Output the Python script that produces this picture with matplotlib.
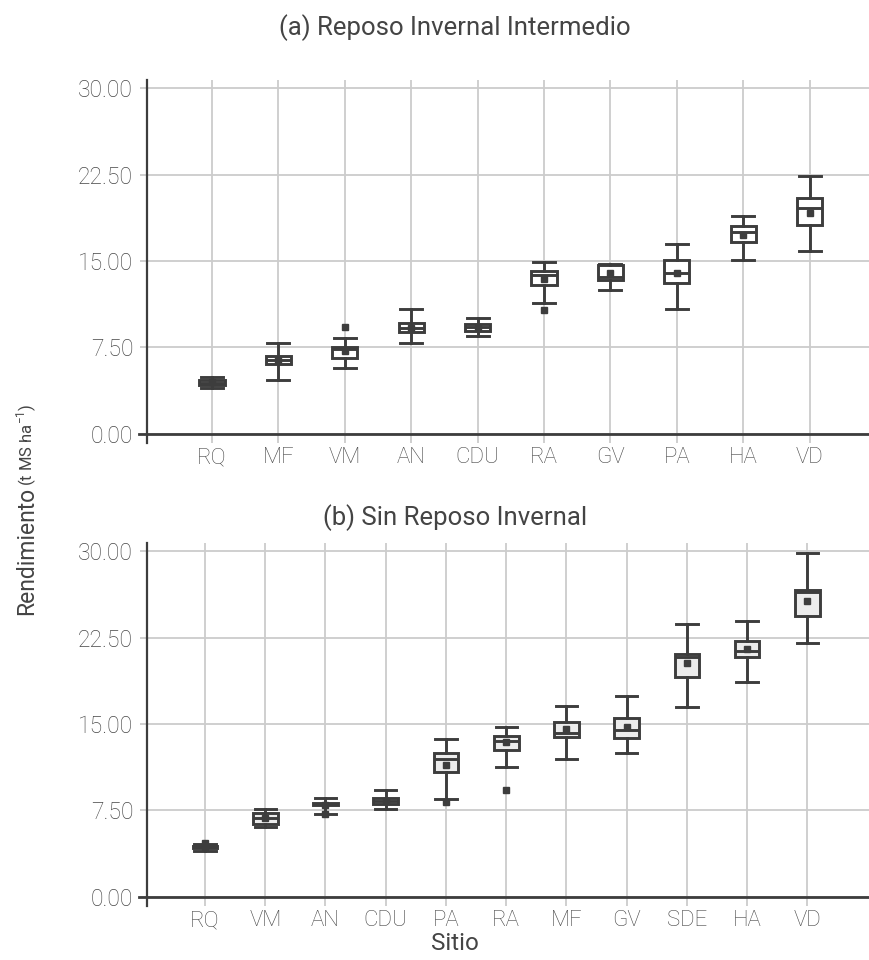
import numpy as np
import matplotlib.pyplot as plt

plt.rcParams['font.family'] = ['Roboto', 'DejaVu Sans']
plt.rcParams['mathtext.fontset'] = 'custom'
plt.rcParams['mathtext.rm'] = 'Roboto'

#%% data (a) Reposo Invernal Intermedio
a_sites  = ['RQ', 'MF', 'VM', 'AN', 'CDU', 'RA', 'GV', 'PA', 'HA', 'VD']
a_whislo = [4.0, 4.7, 5.75, 7.9, 8.45, 11.35, 12.45, 10.8, 15.05, 15.9]
a_q1     = [4.2, 6.05, 6.55, 8.85, 8.95, 12.9, 13.35, 13.05, 16.65, 18.1]
a_med    = [4.45, 6.4, 7.35, 9.2, 9.25, 13.8, 13.65, 13.95, 17.55, 19.6]
a_q3     = [4.7, 6.75, 7.5, 9.6, 9.55, 14.15, 14.65, 15.1, 18.05, 20.5]
a_whishi = [4.95, 7.9, 8.3, 10.8, 10.05, 14.9, 14.7, 16.5, 18.9, 22.4]
a_mean   = [4.5, 6.4, 7.2, 9.2, 9.25, 13.4, 13.95, 13.95, 17.3, 19.15]
a_fliers = {'VM': [9.25], 'RA': [10.75]}

#%% data (b) Sin Reposo Invernal
b_sites  = ['RQ', 'VM', 'AN', 'CDU', 'PA', 'RA', 'MF', 'GV', 'SDE', 'HA', 'VD']
b_whislo = [4.0, 6.05, 7.2, 7.65, 8.5, 11.25, 11.95, 12.5, 16.5, 18.65, 22.0]
b_q1     = [4.2, 6.35, 7.95, 8.05, 10.8, 12.75, 13.9, 13.8, 19.1, 20.85, 24.4]
b_med    = [4.3, 6.8, 8.05, 8.3, 12.0, 13.55, 14.2, 14.5, 20.85, 21.3, 26.5]
b_q3     = [4.4, 7.25, 8.15, 8.55, 12.45, 13.95, 15.2, 15.5, 21.05, 22.2, 26.6]
b_whishi = [4.55, 7.65, 8.6, 9.25, 13.7, 14.75, 16.6, 17.4, 23.65, 23.9, 29.85]
b_mean   = [4.3, 6.8, 8.0, 8.3, 11.4, 13.4, 14.55, 14.75, 20.3, 21.55, 25.7]
b_fliers = {'RQ': [4.7], 'AN': [7.15], 'PA': [8.2], 'RA': [9.3]}

yticks = [0, 7.5, 15, 22.5, 30]

DARK = '#3d3d3d'
GRID = '#cccccc'


def make_stats(sites, whislo, q1, med, q3, whishi, mean, fliers):
    out = []
    for i, s in enumerate(sites):
        out.append(dict(label=s, whislo=whislo[i], q1=q1[i], med=med[i], q3=q3[i],
                        whishi=whishi[i], mean=mean[i], fliers=fliers.get(s, [])))
    return out


def draw(ax, st, face, width, capw, xlim):
    n = len(st)
    mk = dict(marker='s', markerfacecolor=DARK, markeredgecolor=DARK, markersize=5)
    ax.bxp(st, positions=range(n), widths=width, capwidths=capw, showmeans=True,
           patch_artist=True,
           boxprops=dict(facecolor=face, edgecolor=DARK, linewidth=2.1),
           whiskerprops=dict(color=DARK, linewidth=2.1),
           capprops=dict(color=DARK, linewidth=2.1),
           medianprops=dict(color=DARK, linewidth=2.1),
           meanprops=mk, flierprops=mk)
    ax.set_xlim(*xlim)
    ax.set_ylim(-0.8, 30.7)
    ax.set_yticks(yticks)
    ax.set_yticklabels(['%.2f' % v for v in yticks])
    ax.grid(True, color=GRID, lw=1.3)
    ax.set_axisbelow(True)
    for s in ['top', 'right', 'bottom']:
        ax.spines[s].set_visible(False)
    ax.spines['left'].set_color(DARK)
    ax.spines['left'].set_linewidth(1.6)
    ax.tick_params(axis='y', color=GRID, length=5, width=1.3, labelsize=16.5,
                   labelcolor='#474747', pad=5)
    ax.tick_params(axis='x', length=0, labelsize=16, labelcolor='#474747', pad=3)
    for t in ax.get_xticklabels() + ax.get_yticklabels():
        t.set_fontweight('light')
    # dark zero line
    ax.plot([-0.011, 1], [0, 0], color=DARK, lw=2, transform=ax.get_yaxis_transform(),
            clip_on=False, zorder=3)


fig = plt.figure(figsize=(8.7, 9.6), dpi=100)
ax1 = fig.add_axes([0.169, 0.5385, 0.831, 0.378])
ax2 = fig.add_axes([0.169, 0.05625, 0.831, 0.378])

draw(ax1, make_stats(a_sites, a_whislo, a_q1, a_med, a_q3, a_whishi, a_mean, a_fliers),
     'white', 0.38, 0.33, (-0.979, 9.91))
draw(ax2, make_stats(b_sites, b_whislo, b_q1, b_med, b_q3, b_whishi, b_mean, b_fliers),
     '#ececec', 0.41, 0.355, (-0.963, 11.04))

fig.text(455 / 870, 1 - 35 / 960, '(a) Reposo Invernal Intermedio', ha='center',
         va='baseline', fontsize=18.5, color='#444444')
fig.text(455 / 870, 1 - 525 / 960, '(b) Sin Reposo Invernal', ha='center',
         va='baseline', fontsize=18.5, color='#444444')
fig.text(455 / 870, 1 - 944 / 960, 'Sitio', ha='center', va='center', fontsize=17.5,
         color='#444444')
fig.text(33 / 870, 1 - 615 / 960, 'Rendimiento', rotation=90, rotation_mode='anchor',
         ha='left', va='baseline', fontsize=16.5, color='#444444')
fig.text(33 / 870, 1 - 486 / 960, '(t MS ha$^{-1}$)', rotation=90, rotation_mode='anchor',
         ha='left', va='baseline', fontsize=12, color='#444444')

fig.savefig('out.png', dpi=100)
